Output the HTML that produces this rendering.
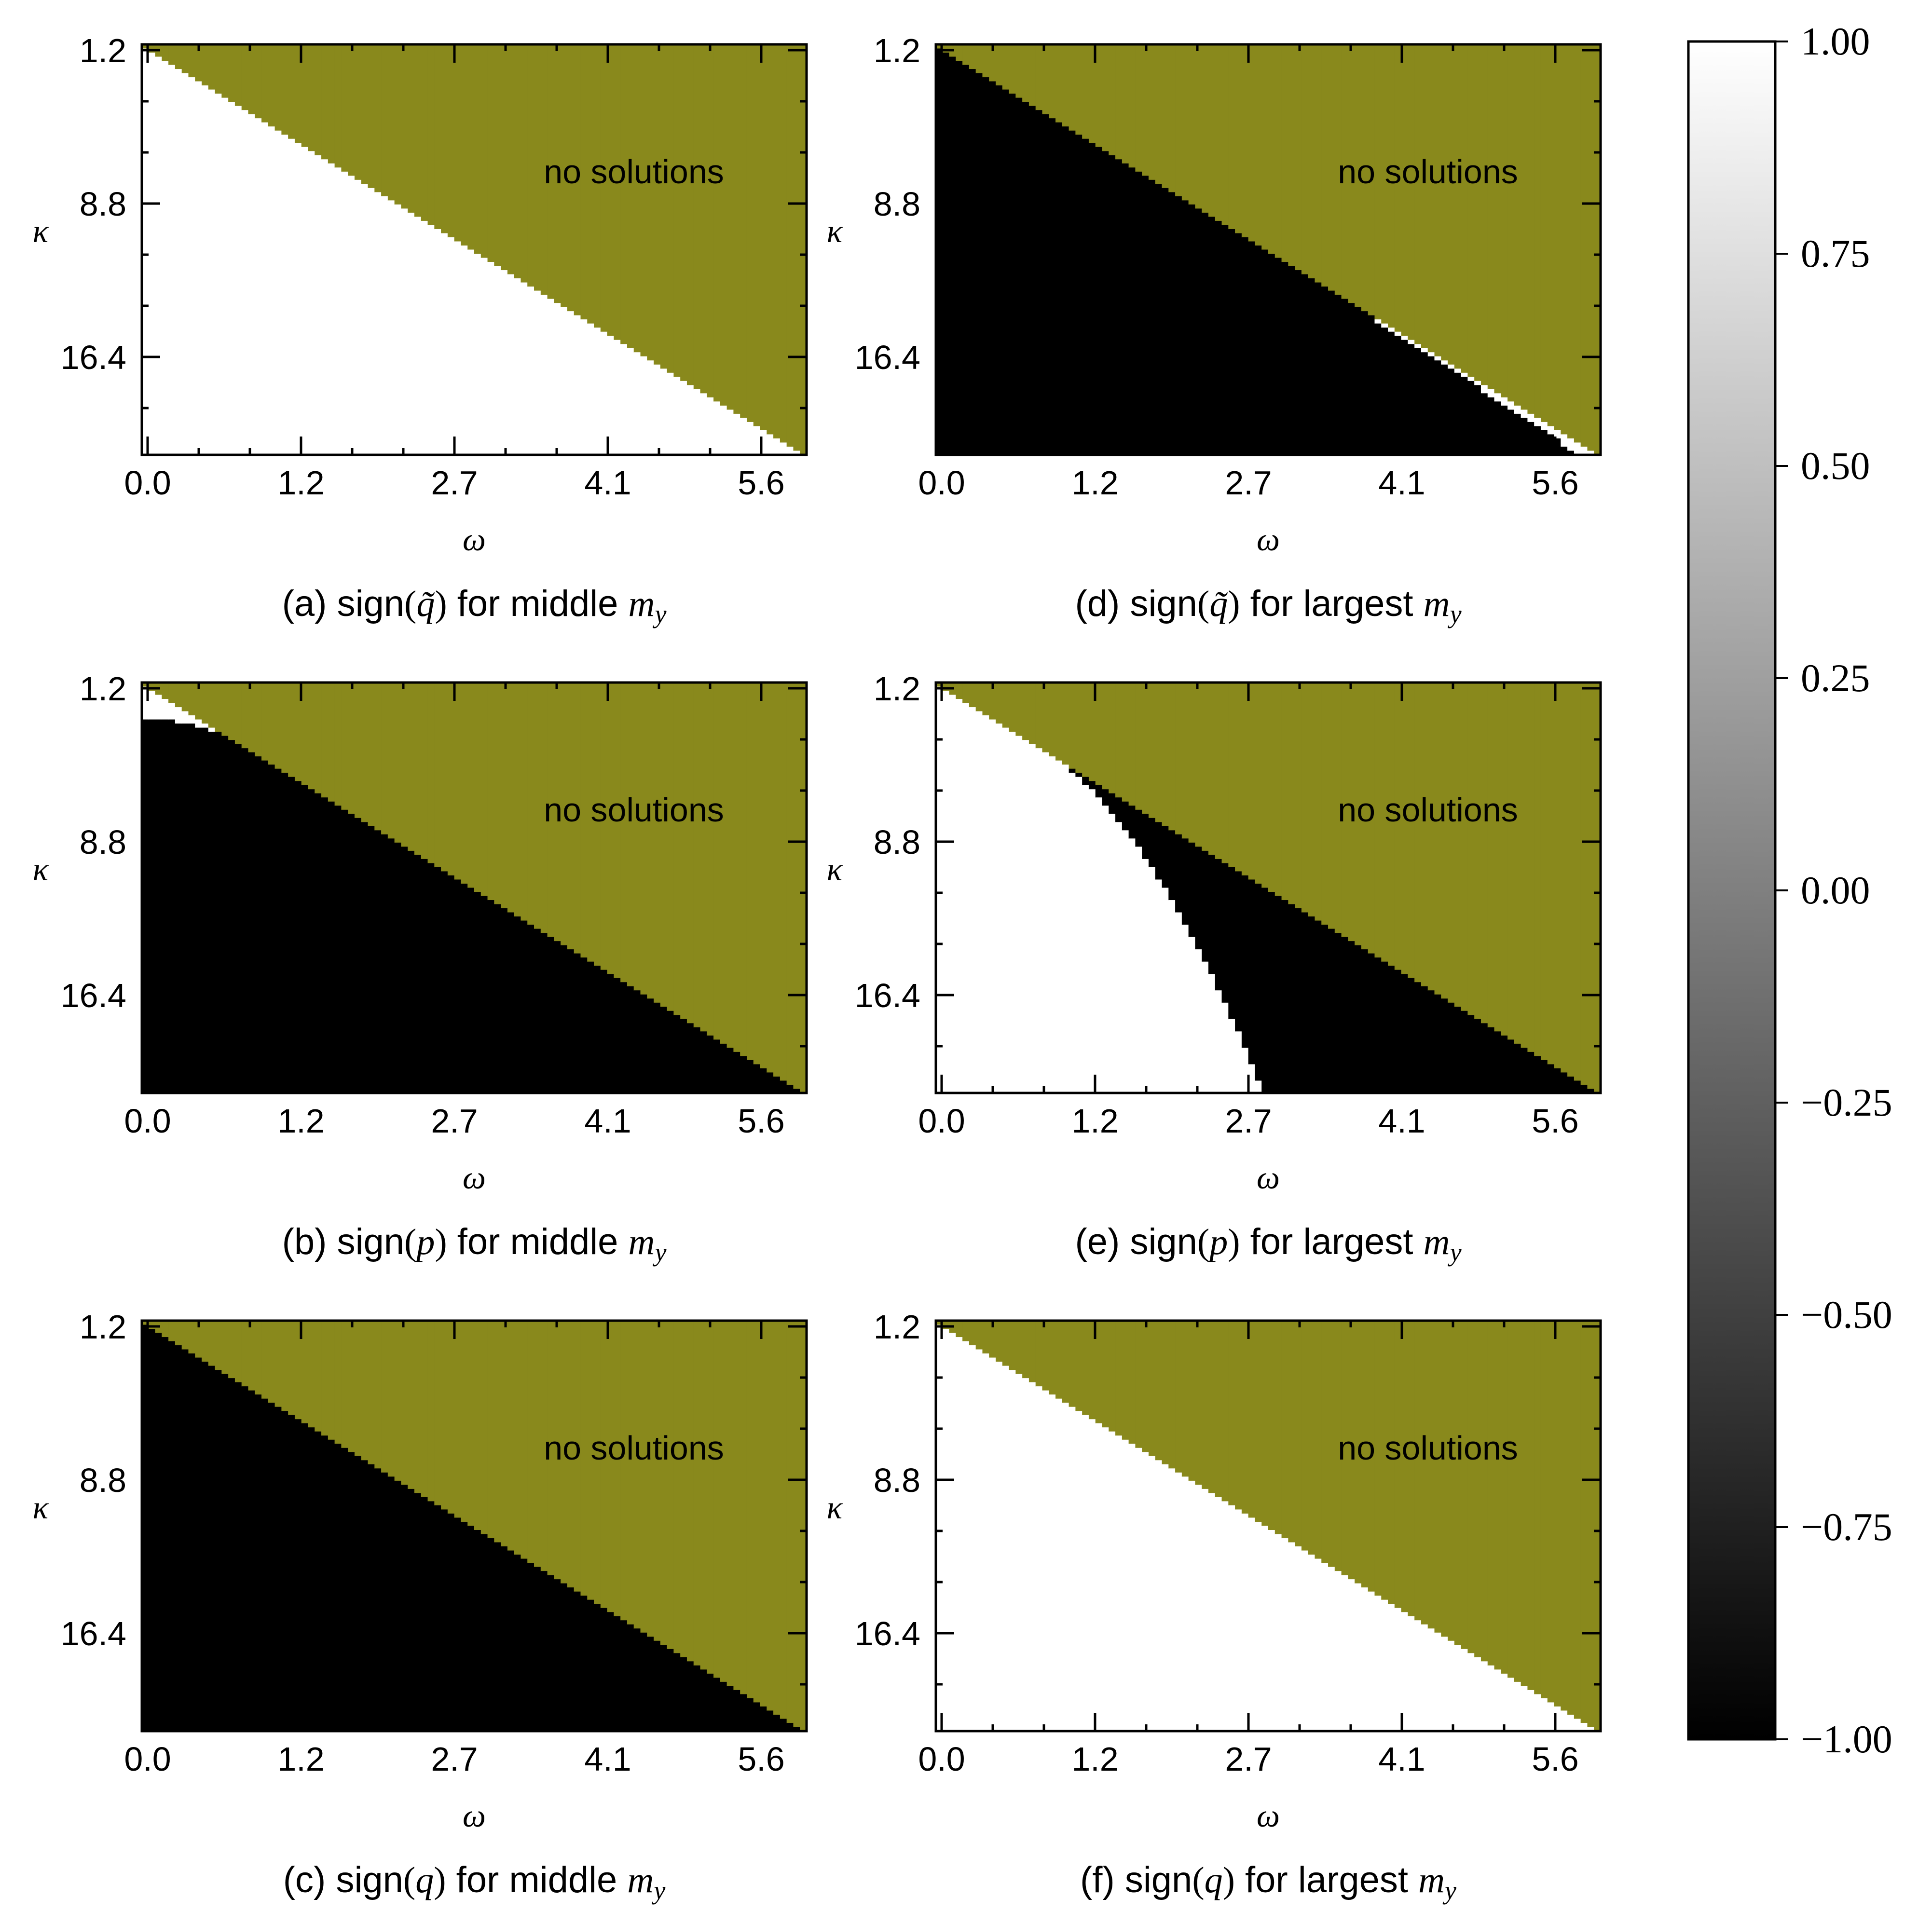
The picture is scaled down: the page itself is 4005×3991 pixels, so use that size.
<!DOCTYPE html>
<html><head><meta charset="utf-8"><style>
html,body{margin:0;padding:0;background:#fff;}
svg{display:block;}
.tk{font-family:"Liberation Sans",sans-serif;font-size:70px;fill:#000;}
.cb{font-family:"Liberation Serif",serif;font-size:82px;fill:#000;}
</style></head><body>
<svg id="fig" width="4005" height="3991" viewBox="0 0 4005 3991" xmlns="http://www.w3.org/2000/svg">
<defs><linearGradient id="grad" x1="0" y1="0" x2="0" y2="1"><stop offset="0" stop-color="#fff"/><stop offset="1" stop-color="#000"/></linearGradient></defs>
</svg>
<script>
// ---- chart data ----
const omegaTicks = ["0.0","1.2","2.7","4.1","5.6"];
const kappaTicks = ["1.2","8.8","16.4"];
const colorbarTicks = [1.00,0.75,0.50,0.25,0.00,-0.25,-0.50,-0.75,-1.00];
// last row index (inclusive) with no solution, per omega column (100 columns)
const noSolLastRow = [0,1,2,3,4,5,6,7,8,9,10,11,12,13,14,15,16,17,18,19,20,21,22,23,24,25,26,27,28,29,30,31,32,33,34,35,36,37,38,39,40,41,42,43,44,45,46,47,48,49,50,51,52,53,54,55,56,57,58,59,60,61,62,63,64,65,66,67,68,69,70,71,72,73,74,75,76,77,78,79,80,81,82,83,84,85,86,87,88,89,90,91,92,93,94,95,96,97,98,99];
// per panel: sign above break row, sign from break row downward, break row per column
const breakA = noSolLastRow.map(v=>100);
const breakB = [9,9,9,9,9,10,10,10,11,11,12,12,13,14,15,16,17,18,19,20,21,22,23,24,25,26,27,28,29,30,31,32,33,34,35,36,37,38,39,40,41,42,43,44,45,46,47,48,49,50,51,52,53,54,55,56,57,58,59,60,61,62,63,64,65,66,67,68,69,70,71,72,73,74,75,76,77,78,79,80,81,82,83,84,85,86,87,88,89,90,91,92,93,94,95,96,97,98,99,100];
const breakC = noSolLastRow.map(v=>0);
const breakD = [1,2,3,4,5,6,7,8,9,10,11,12,13,14,15,16,17,18,19,20,21,22,23,24,25,26,27,28,29,30,31,32,33,34,35,36,37,38,39,40,41,42,43,44,45,46,47,48,49,50,51,52,53,54,55,56,57,58,59,60,61,62,63,64,65,66,68,69,70,71,72,73,74,75,76,77,78,79,80,81,82,83,85,86,87,88,89,90,91,92,93,94,95,96,98,99,100,100,100,100];
const breakE = [1,2,3,4,5,6,7,8,9,10,11,12,13,14,15,16,17,18,19,20,22,23,25,26,28,30,32,34,36,38,40,43,45,48,50,53,56,59,62,65,68,71,75,78,82,85,89,93,97,100,100,100,100,100,100,100,100,100,100,100,100,100,100,100,100,100,100,100,100,100,100,100,100,100,100,100,100,100,100,100,100,100,100,100,100,100,100,100,100,100,100,100,100,100,100,100,100,100,100,100];
const breakF = noSolLastRow.map(v=>100);
const panels = [
 {id:"a",col:0,row:0,top:1,bottom:-1,brk:breakA,cap:["(a) sign","q̃"," for middle "]},
 {id:"b",col:0,row:1,top:1,bottom:-1,brk:breakB,cap:["(b) sign","p"," for middle "]},
 {id:"c",col:0,row:2,top:1,bottom:-1,brk:breakC,cap:["(c) sign","q"," for middle "]},
 {id:"d",col:1,row:0,top:1,bottom:-1,brk:breakD,cap:["(d) sign","q̃"," for largest "]},
 {id:"e",col:1,row:1,top:-1,bottom:1,brk:breakE,cap:["(e) sign","p"," for largest "]},
 {id:"f",col:1,row:2,top:1,bottom:-1,brk:breakF,cap:["(f) sign","q"," for largest "]}
];
// ---- layout ----
const NS="http://www.w3.org/2000/svg";
const svg=document.getElementById('fig');
const PX=[294,1940], PY=[92,1415,2738], W=1378, H=851, NC=100, NR=100;
const OLIVE="#89891c";
function mk(tag,attrs,parent){const e=document.createElementNS(NS,tag);for(const k in attrs)e.setAttribute(k,attrs[k]);(parent||svg).appendChild(e);return e;}
function signColor(s){return s>0?"#fff":"#000";}
panels.forEach(p=>{
  const L=PX[p.col], T=PY[p.row];
  const g=mk('g',{});
  
  
  const xCell=c=>L+c*W/NC, yCell=r=>T+r*H/NR;
  for(let c=0;c<NC;c++){
    const nsEnd=noSolLastRow[c]+1;
    const b=Math.max(nsEnd,Math.min(NR,p.brk[c]));
    const x=xCell(c), w=xCell(c+1)-x+0.6;
    const r1=mk('rect',{x:x,y:yCell(0),width:w,height:yCell(nsEnd)-yCell(0)+0.6,fill:OLIVE},g);
    
    
    if(b>nsEnd){const r2=mk('rect',{x:x,y:yCell(nsEnd),width:w,height:yCell(b)-yCell(nsEnd)+0.6,fill:signColor(p.top)},g);
      
      }
    if(NR>b){const r3=mk('rect',{x:x,y:yCell(b),width:w,height:yCell(NR)-yCell(b),fill:signColor(p.bottom)},g);
      
      }
  }
  // ticks
  const tx=k=>L+12+k*106, ty=k=>T+12+k*106;
  for(let k=0;k<=12;k++){
    const len=(k%3===0)?38:14;
    mk('line',{x1:tx(k),y1:T+H,x2:tx(k),y2:T+H-len,stroke:'#000','stroke-width':5},g);
    mk('line',{x1:tx(k),y1:T,x2:tx(k),y2:T+len,stroke:'#000','stroke-width':5},g);
  }
  for(let k=0;k<=7;k++){
    const len=(k%3===0)?38:14;
    mk('line',{x1:L,y1:ty(k),x2:L+len,y2:ty(k),stroke:'#000','stroke-width':5},g);
    mk('line',{x1:L+W,y1:ty(k),x2:L+W-len,y2:ty(k),stroke:'#000','stroke-width':5},g);
  }
  const fr=mk('rect',{x:L,y:T,width:W,height:H,fill:'none',stroke:'#000','stroke-width':5},g);
  
  
  omegaTicks.forEach((t,i)=>{const e=mk('text',{x:tx(i*3),y:T+H+82,'text-anchor':'middle',class:'tk'},g);e.textContent=t;
    
    });
  kappaTicks.forEach((t,i)=>{const e=mk('text',{x:L-32,y:ty(i*3)+25,'text-anchor':'end',class:'tk'},g);e.textContent=t;
    
    });
  const ns=mk('text',{x:L+1020,y:T+288,'text-anchor':'middle',class:'tk','font-size':74},g);ns.textContent="no solutions";
  
  
  const xl=mk('text',{x:L+W/2,y:T+H+198,'text-anchor':'middle','font-family':'Liberation Serif, serif','font-style':'italic','font-size':68},g);xl.textContent="ω";
  
  
  const yl=mk('text',{x:L-210,y:T+410,'text-anchor':'middle','font-family':'Liberation Serif, serif','font-style':'italic','font-size':68},g);yl.textContent="κ";
  
  
  const cap=mk('text',{x:L+W/2,y:T+H+334,'text-anchor':'middle','font-family':'Liberation Sans, sans-serif','font-size':76},g);
  
  
  const s1=mk('tspan',{},cap);s1.textContent=p.cap[0];
  const s2=mk('tspan',{'font-family':'Liberation Serif, serif'},cap);s2.textContent="(";
  const s3=mk('tspan',{'font-family':'Liberation Serif, serif','font-style':'italic'},cap);s3.textContent=p.cap[1];
  const s4=mk('tspan',{'font-family':'Liberation Serif, serif'},cap);s4.textContent=")";
  const s5=mk('tspan',{},cap);s5.textContent=p.cap[2];
  const s6=mk('tspan',{'font-family':'Liberation Serif, serif','font-style':'italic'},cap);s6.textContent="m";
  const s7=mk('tspan',{'font-family':'Liberation Serif, serif','font-style':'italic','font-size':54,dy:14},cap);s7.textContent="y";
});
// ---- colorbar ----
const CBL=3500, CBR=3680, CBT=86, CBB=3606;
const cbg=mk('g',{});


mk('rect',{x:CBL,y:CBT,width:CBR-CBL,height:CBB-CBT,fill:'url(#grad)',stroke:'#000','stroke-width':5},cbg);
const cy=v=>CBT+(1-v)/2*(CBB-CBT);
colorbarTicks.forEach(v=>{
  mk('line',{x1:CBR,y1:cy(v),x2:CBR+27,y2:cy(v),stroke:'#000','stroke-width':4},cbg);
  const t=mk('text',{x:3733,y:cy(v)+27,class:'cb'},cbg);
  t.textContent=(v<0?"−":"")+Math.abs(v).toFixed(2);
  
  
});
</script>
</body></html>
